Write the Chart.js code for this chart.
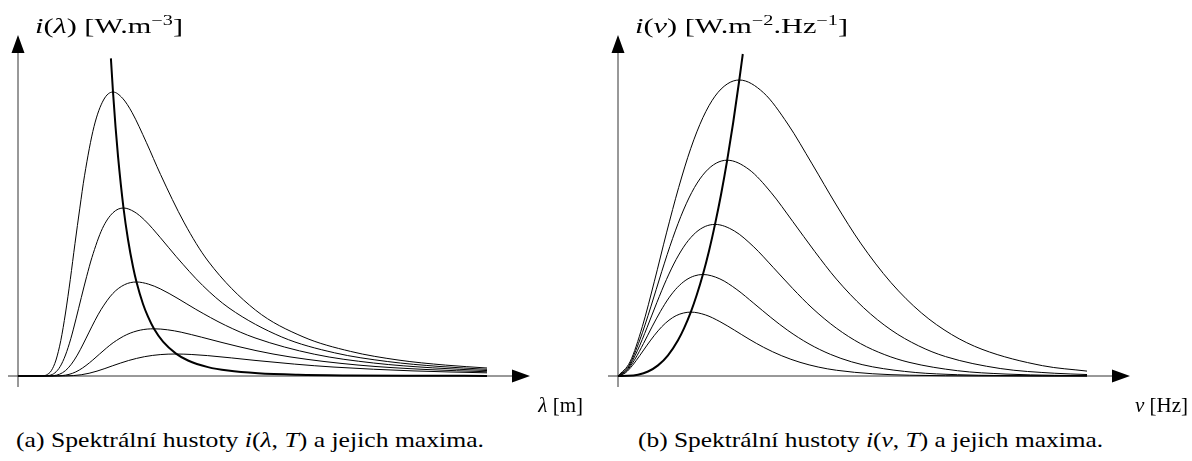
<!DOCTYPE html>
<html><head><meta charset="utf-8">
<script src="https://cdn.jsdelivr.net/npm/chart.js@4.4.1/dist/chart.umd.min.js"></script>
<style>
html,body{margin:0;padding:0;background:#fff;}
body{width:1192px;height:461px;position:relative;overflow:hidden;font-family:"Liberation Serif","Times New Roman",serif;color:#000;}
canvas{position:absolute;top:0;}
.t{position:absolute;white-space:nowrap;font-size:21px;line-height:21px;transform-origin:0 0;font-weight:normal;}
.t sup{font-size:14px;vertical-align:0;position:relative;top:-8px;}
</style></head><body>
<canvas id="cL" width="596" height="400" style="left:0"></canvas>
<canvas id="cR" width="596" height="400" style="left:596px"></canvas>
<div class="t fit" data-w="148" style="left:35px;top:16px"><i>i</i>(<i>λ</i>) [W.m<sup>−3</sup>]</div>
<div class="t fit" data-w="213" style="left:635px;top:16px"><i>i</i>(<i>ν</i>) [W.m<sup>−2</sup>.Hz<sup>−1</sup>]</div>
<div class="t" style="right:609px;top:395px"><i>λ</i> [m]</div>
<div class="t" style="right:4px;top:395px"><i>ν</i> [Hz]</div>
<div class="t fit" data-w="468" style="left:16px;top:430px">(a) Spektrální hustoty <i>i</i>(<i>λ</i>, <i>T</i>) a jejich maxima.</div>
<div class="t fit" data-w="465" style="left:638px;top:430px">(b) Spektrální hustoty <i>i</i>(<i>ν</i>, <i>T</i>) a jejich maxima.</div>
<script>
// Temperatures of the five curves (K)
const temperatures = [5000, 4500, 4000, 3500, 3000];

// ---- Panel (a): i(lambda, T), arbitrary units ----
const lam5000 = [0,23.8,28.5,33.3,38,42.8,47.5,52.3,57,61.8,66.5,76,85.5,95,104.5,114,128.3,142.5,166.3,190,237.5,285,332.5,380,427.5,469];
const iLam5000 = [0,0.1,1.1,5.3,16,35.5,63,96.6,132.6,167.8,200.2,249.4,276,284,277.8,263.6,233.7,201.6,153.1,115,65.9,39.2,24.6,16,10.9,8];
const lam4500 = [0,26.4,31.7,36.9,42.2,47.5,52.8,58,63.3,68.6,73.9,84.4,95,105.5,116.1,126.6,142.4,158.3,184.6,211,263.8,316.5,369.3,422,469];
const iLam4500 = [0,0.05,0.64,3.14,9.5,21,37.3,57.1,78.5,99.3,118.4,147.5,163.3,168,164.3,155.9,138.3,119.3,90.6,68,39,23.2,14.5,9.5,6.7];
const lam4000 = [0,29.6,35.6,41.5,47.4,53.3,59.3,65.2,71.1,77,83,94.8,106.7,118.5,130.4,142.2,160,177.8,207.4,237,296.3,355.5,414.8,469];
const iLam4000 = [0,0.03,0.36,1.76,5.31,11.75,20.9,32,43.9,55.6,66.3,82.5,91.4,94,91.9,87.2,77.4,66.7,50.7,38.1,21.8,13,8.14,5.45];
const lam3500 = [0,34,40.8,47.6,54.4,61.2,68,74.8,81.6,88.4,95.2,108.8,122.4,136,149.6,163.2,183.6,204,238,272,340,408,469];
const iLam3500 = [0,0.01,0.18,0.88,2.67,5.9,10.5,16,22,27.9,33.3,41.4,45.9,47.2,46.2,43.8,38.8,33.5,25.4,19.1,10.95,6.51,4.25];
const lam3000 = [0,39.5,47.4,55.3,63.2,71.1,79,86.9,94.8,102.7,110.6,126.4,142.2,158,173.8,189.6,213.3,237,276.5,316,395,469];
const iLam3000 = [0,0.01,0.08,0.41,1.24,2.75,4.88,7.48,10.3,13,15.5,19.3,21.4,22,21.5,20.4,18.1,15.6,11.9,8.91,5.1,3.15];
// locus of maxima (Wien)
const lamPeak = [92.9,95,97.5,100,105.5,110,115,118.5,125,130,136,145,158,170,190,210,240,280,330,400,469];
const iLamPeak = [317.6,284,249.5,219.8,168,136.5,109.2,94,72,59.3,47.2,34.3,22.4,15.5,8.9,5.42,2.78,1.28,0.56,0.21,0.1];

// ---- Panel (b): i(nu, T) ----
const nu5000 = [0,12.1,24.3,36.4,48.5,60.7,72.8,84.9,97,109.2,121.3,145.6,169.8,194.1,218.3,242.6,272.9,303.3,333.6,364,424.6,469];
const iNu5000 = [0,14.3,49.3,94.8,143.1,188.6,227.7,258.4,279.8,292,296,283.2,252,212.1,171,132.9,93.5,63.2,41.5,26.7,10.3,4.9];
const nu4500 = [0,10.9,21.8,32.8,43.7,54.6,65.5,76.4,87.4,98.3,109.2,131,152.9,174.7,196.6,218.4,245.7,273,300.3,327.6,382.2,436.8,469];
const iNu4500 = [0,10.4,36,69.1,104.3,137.5,166,188.4,204,212.9,215.8,206.5,183.7,154.6,124.7,96.9,68.2,46.1,30.3,19.4,7.5,2.74,1.47];
const nu4000 = [0,9.7,19.4,29.1,38.8,48.5,58.2,67.9,77.6,87.3,97,116.4,135.8,155.2,174.6,194,218.3,242.5,266.8,291,339.5,388,436.5,469];
const iNu4000 = [0,7.3,25.3,48.6,73.3,96.6,116.6,132.3,143.3,149.6,151.6,145,129.1,108.6,87.6,68.1,47.9,32.4,21.3,13.7,5.29,1.93,0.67,0.32];
const nu3500 = [0,8.5,17,25.5,34,42.5,50.9,59.4,67.9,76.4,84.9,101.9,118.9,135.8,152.8,169.8,191,212.3,233.5,254.7,297.2,339.6,382.1,424.5,469];
const iNu3500 = [0,4.9,16.9,32.5,49.1,64.7,78.1,88.6,95.9,100.1,101.5,97.1,86.4,72.7,58.6,45.6,32.1,21.7,14.2,9.15,3.54,1.29,0.45,0.15,0.05];
const nu3000 = [0,7.3,14.6,21.8,29.1,36.4,43.7,51,58.2,65.5,72.8,87.4,101.9,116.5,131,145.6,163.8,182,200.2,218.4,254.8,291.2,364,469];
const iNu3000 = [0,3.09,10.7,20.5,30.9,40.7,49.2,55.8,60.4,63,63.9,61.1,54.4,45.8,36.9,28.7,20.2,13.7,8.97,5.76,2.23,0.81,0.09,0];
const nuPeak = [0,10,20,30,40,50,60,66,72.8,78.8,84.9,91,97,103,109.2,115.2,121.3,124.8];
const iNuPeak = [0,0.17,1.33,4.48,10.6,20.7,35.8,47.7,63.9,81.2,101.5,125,151.6,181.2,215.8,253.5,296,322];

// axis extents (data units)
const axisMax = {x: 512, y: 341};

const pts = (xs, ys) => xs.map((v, i) => ({x: v, y: ys[i]}));
const curve = (label, xs, ys, w) => ({
  label, data: pts(xs, ys), borderColor: '#000', borderWidth: w,
  pointRadius: 0, fill: false, cubicInterpolationMode: 'monotone', clip: false
});

const arrowAxes = {
  id: 'arrowAxes',
  beforeDatasetsDraw(chart) {
    const {ctx, scales: {x, y}} = chart;
    const x0 = x.getPixelForValue(0), y0 = y.getPixelForValue(0);
    const xs = x.getPixelForValue(-10), xe = x.getPixelForValue(axisMax.x);
    const ys = y.getPixelForValue(-11), ye = y.getPixelForValue(axisMax.y);
    ctx.save();
    ctx.strokeStyle = '#333'; ctx.fillStyle = '#000'; ctx.lineWidth = 1;
    ctx.beginPath();
    ctx.moveTo(xs, y0); ctx.lineTo(xe - 10, y0);
    ctx.moveTo(x0, ys); ctx.lineTo(x0, ye + 10);
    ctx.stroke();
    ctx.beginPath();
    ctx.moveTo(xe, y0); ctx.lineTo(xe - 18, y0 - 6.5); ctx.lineTo(xe - 18, y0 + 6.5); ctx.closePath();
    ctx.moveTo(x0, ye); ctx.lineTo(x0 - 6.5, ye + 18); ctx.lineTo(x0 + 6.5, ye + 18); ctx.closePath();
    ctx.fill();
    ctx.restore();
  }
};

function makeChart(id, datasets, padL, padR) {
  return new Chart(document.getElementById(id), {
    type: 'line',
    data: {datasets},
    options: {
      responsive: false, animation: false, devicePixelRatio: 1, events: [],
      layout: {padding: {left: padL, right: padR, top: 35, bottom: 24}},
      plugins: {legend: {display: false}, tooltip: {enabled: false}},
      scales: {
        x: {type: 'linear', min: 0, max: axisMax.x, display: false},
        y: {type: 'linear', min: 0, max: axisMax.y, display: false}
      }
    },
    plugins: [arrowAxes]
  });
}

makeChart('cL', [
  curve(temperatures[0] + ' K', lam5000, iLam5000, 1),
  curve(temperatures[1] + ' K', lam4500, iLam4500, 1),
  curve(temperatures[2] + ' K', lam4000, iLam4000, 1),
  curve(temperatures[3] + ' K', lam3500, iLam3500, 1),
  curve(temperatures[4] + ' K', lam3000, iLam3000, 1),
  curve('maxima', lamPeak, iLamPeak, 2)
], 18, 66);

makeChart('cR', [
  curve(temperatures[0] + ' K', nu5000, iNu5000, 1),
  curve(temperatures[1] + ' K', nu4500, iNu4500, 1),
  curve(temperatures[2] + ' K', nu4000, iNu4000, 1),
  curve(temperatures[3] + ' K', nu3500, iNu3500, 1),
  curve(temperatures[4] + ' K', nu3000, iNu3000, 1),
  curve('maxima', nuPeak, iNuPeak, 2)
], 22, 62);

document.querySelectorAll('.fit').forEach(el => {
  const w = el.getBoundingClientRect().width;
  const target = +el.dataset.w;
  if (w > 0) el.style.transform = 'scaleX(' + (target / w).toFixed(3) + ')';
});
</script>
</body></html>
